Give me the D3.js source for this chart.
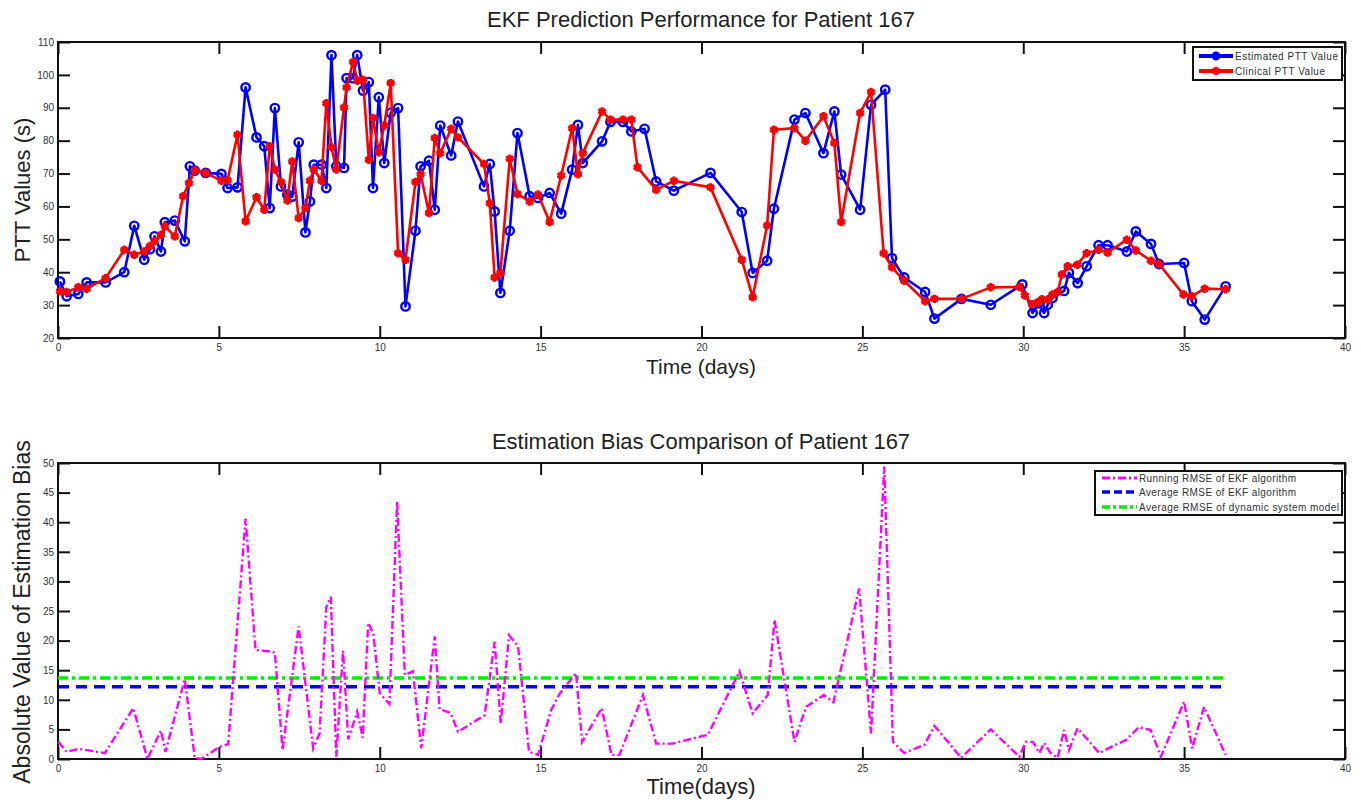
<!DOCTYPE html>
<html>
<head>
<meta charset="utf-8">
<script src="https://cdn.jsdelivr.net/npm/d3@7"></script>
<style>
  body { margin: 0; background: #fff; }
  svg { display: block; font-family: "Liberation Sans", Arial, sans-serif; }
</style>
</head>
<body>
<div id="svg-container"></div>
<script>
// Data
const estDays = [0.06,0.27,0.63,0.89,1.48,2.06,2.37,2.68,2.86,3.00,3.20,3.32,3.63,3.94,4.10,4.25,4.59,5.08,5.27,5.58,5.83,6.17,6.41,6.58,6.74,6.93,7.13,7.28,7.48,7.69,7.83,7.95,8.19,8.34,8.50,8.65,8.89,8.97,9.17,9.30,9.48,9.66,9.79,9.97,10.14,10.34,10.57,10.80,11.11,11.27,11.53,11.71,11.88,12.22,12.43,13.24,13.42,13.57,13.75,14.04,14.28,14.66,14.92,15.28,15.64,15.98,16.16,16.31,16.91,17.17,17.56,17.82,18.23,18.59,19.14,20.28,21.25,21.59,22.04,22.25,22.89,23.23,23.79,24.13,24.34,24.93,25.27,25.71,25.92,26.30,26.95,27.24,28.08,28.99,29.97,30.29,30.47,30.65,30.76,30.91,31.27,31.42,31.69,31.97,32.34,32.62,33.22,33.50,33.97,34.22,35.00,35.24,35.64,36.29]
const estimated = [37.2,32.7,33.4,36.9,36.9,40.0,54.1,43.8,47.0,50.9,46.3,55.2,55.7,49.4,72.2,70.9,70.2,69.9,65.6,65.8,96.2,81.0,78.3,59.5,89.9,66.1,63.6,63.0,79.5,52.1,61.5,72.7,72.7,65.6,106.0,72.2,71.7,99.0,99.0,106.0,95.2,97.8,65.6,93.2,73.2,88.5,89.9,29.6,52.6,72.2,73.9,59.0,84.6,75.5,85.8,66.1,72.9,58.5,33.7,52.6,82.3,63.1,62.6,64.1,57.8,71.2,84.8,73.2,79.8,85.7,85.7,82.8,83.6,67.6,64.8,70.2,58.3,39.8,43.5,59.3,86.4,88.4,76.2,88.9,69.7,59.0,90.9,95.5,44.3,38.4,34.0,25.9,31.9,30.1,36.3,27.6,30.5,27.6,30.1,32.2,34.3,39.8,36.7,41.8,48.2,48.2,46.3,52.4,48.6,42.5,42.8,31.2,25.6,35.7]

const clinDays = [0.06,0.27,0.63,0.89,1.48,2.06,2.37,2.68,2.86,3.00,3.20,3.32,3.63,3.89,4.07,4.25,4.59,5.08,5.27,5.58,5.83,6.17,6.41,6.58,6.74,6.93,7.13,7.28,7.48,7.69,7.83,7.95,8.19,8.34,8.50,8.65,8.89,8.97,9.17,9.30,9.48,9.66,9.79,9.97,10.14,10.34,10.57,10.80,11.11,11.27,11.53,11.71,11.88,12.22,12.43,13.24,13.42,13.57,13.75,14.04,14.28,14.66,14.92,15.28,15.64,15.98,16.16,16.31,16.91,17.17,17.56,17.82,18.01,18.59,19.14,20.28,21.25,21.59,22.04,22.25,22.89,23.23,23.79,24.13,24.34,24.93,25.27,25.66,25.92,26.30,26.95,27.24,28.08,28.99,29.88,30.05,30.27,30.45,30.58,30.76,30.91,31.07,31.20,31.38,31.68,31.97,32.34,32.62,33.22,33.50,33.97,34.22,34.98,35.24,35.64,36.29]
const clinical = [34.2,34.0,35.4,35.0,38.2,46.8,45.3,46.3,48.0,49.5,51.4,54.0,50.9,63.1,67.1,70.9,70.2,67.8,68.0,81.8,55.5,62.8,59.0,78.3,71.2,67.4,61.8,73.7,56.5,59.5,67.8,71.2,67.8,91.4,78.0,71.2,90.1,96.2,103.9,98.2,98.5,74.2,86.9,76.5,84.6,97.5,45.8,43.8,67.4,69.8,58.0,80.8,76.2,83.6,81.0,72.9,61.0,38.4,39.8,74.5,63.8,61.5,63.6,55.3,69.4,83.8,69.8,76.2,88.9,86.4,86.4,86.4,71.9,65.1,67.8,65.8,43.8,32.4,54.2,83.3,83.8,80.0,87.4,79.3,55.3,88.4,94.8,45.8,41.5,37.4,31.2,31.9,31.9,35.4,35.5,32.9,30.3,30.8,31.8,31.7,33.2,34.0,39.3,41.8,42.3,45.8,46.8,46.0,49.9,46.6,43.5,42.5,33.2,32.7,35.0,34.8]

const biasDays = [0.01,0.27,0.63,0.89,1.46,2.34,2.78,3.20,3.34,3.94,4.25,4.45,5.03,5.29,5.83,6.14,6.53,6.74,6.98,7.48,7.93,8.13,8.34,8.48,8.65,8.86,9.02,9.30,9.47,9.64,9.80,10.00,10.30,10.54,10.78,11.03,11.29,11.71,11.86,12.20,12.43,13.26,13.57,13.76,14.02,14.30,14.64,14.92,15.33,15.60,16.10,16.29,16.90,17.20,17.45,18.18,18.59,19.10,20.20,21.18,21.59,22.06,22.27,22.89,23.25,23.80,24.10,24.90,25.27,25.68,25.95,26.30,26.93,27.24,28.07,28.99,29.88,30.08,30.30,30.50,30.65,30.85,31.07,31.27,31.42,31.69,32.36,32.75,33.19,33.60,33.96,34.28,35.00,35.25,35.62,36.29]
const runningRmse = [2.9,1.2,1.7,1.5,1.0,8.6,0.0,4.8,1.2,13.5,0.2,0.0,2.1,2.5,40.6,18.4,18.2,18.0,1.5,22.4,1.8,4.3,25.7,27.4,0.4,18.3,3.3,8.0,3.6,23.0,21.2,11.1,9.3,43.5,14.2,14.8,1.8,20.7,8.4,7.8,4.6,7.4,19.8,6.0,20.9,19.0,1.2,0.7,8.3,11.1,14.5,2.9,8.6,0.7,0.7,10.8,2.6,2.6,4.1,14.8,7.7,10.8,23.5,2.9,8.8,10.8,9.6,28.8,4.3,49.4,2.9,1.0,2.4,5.6,0.2,5.0,0.4,2.9,2.9,1.0,2.7,1.0,0.2,4.9,1.5,5.2,1.0,2.1,3.2,5.4,4.9,0.4,9.7,1.8,8.8,0.7]

const avgRmseEkf = 12.2
const avgRmseModel = 13.7

const xTicks = [0, 5, 10, 15, 20, 25, 30, 35, 40]
const pttTicks = [20, 30, 40, 50, 60, 70, 80, 90, 100, 110]
const biasTicks = [0, 5, 10, 15, 20, 25, 30, 35, 40, 45, 50]

// Layout
const width = 1361
const height = 804
const plotLeft = 58
const plotRight = 1345
const topPanel = { top: 42, bottom: 338 }
const bottomPanel = { top: 463, bottom: 759 }

const svg = d3
  .select('#svg-container')
  .append('svg')
  .attr('width', width)
  .attr('height', height)
  .style('background', '#fff')

const xScale = d3.scaleLinear().domain([0, 40]).range([plotLeft, plotRight])
const yPtt = d3.scaleLinear().domain([20, 110]).range([topPanel.bottom, topPanel.top])
const yBias = d3.scaleLinear().domain([0, 50]).range([bottomPanel.bottom, bottomPanel.top])

const drawFrame = (yScale, yTicks, panel) => {
  const g = svg.append('g')
  const tick = 12
  g.append('g')
    .attr('transform', `translate(0, ${panel.bottom})`)
    .call(d3.axisBottom(xScale).tickValues(xTicks).tickSizeInner(-tick).tickSizeOuter(0).tickPadding(6))
  g.append('g')
    .attr('transform', `translate(0, ${panel.top})`)
    .call(d3.axisTop(xScale).tickValues(xTicks).tickSizeInner(-tick).tickSizeOuter(0).tickFormat(''))
  g.append('g')
    .attr('transform', `translate(${plotLeft}, 0)`)
    .call(d3.axisLeft(yScale).tickValues(yTicks).tickSizeInner(-tick).tickSizeOuter(0).tickPadding(4))
  g.append('g')
    .attr('transform', `translate(${plotRight}, 0)`)
    .call(d3.axisRight(yScale).tickValues(yTicks).tickSizeInner(-tick).tickSizeOuter(0).tickFormat(''))
  g.selectAll('.tick line').attr('stroke', '#111').attr('stroke-width', 2)
  g.selectAll('.domain').remove()
  g.selectAll('.tick text')
    .attr('fill', '#333')
    .style('font-size', '10px')
    .style('font-family', '"Liberation Sans", Arial, sans-serif')
  g.append('rect')
    .attr('x', plotLeft)
    .attr('y', panel.top)
    .attr('width', plotRight - plotLeft)
    .attr('height', panel.bottom - panel.top)
    .attr('fill', 'none')
    .attr('stroke', '#111')
    .attr('stroke-width', 2)
  return g
}

const addText = (txt, x, y, size, rotate) => {
  const t = svg
    .append('text')
    .attr('text-anchor', 'middle')
    .attr('fill', '#222')
    .style('font-size', `${size}px`)
    .text(txt)
  if (rotate) t.attr('transform', `translate(${x}, ${y}) rotate(-90)`)
  else t.attr('x', x).attr('y', y)
}

// ---- Top panel ----
drawFrame(yPtt, pttTicks, topPanel)

const estData = estDays.map((d, i) => ({ day: d, value: estimated[i] }))
const clinData = clinDays.map((d, i) => ({ day: d, value: clinical[i] }))

const pttLine = d3
  .line()
  .x(d => xScale(d.day))
  .y(d => yPtt(d.value))

svg.append('path')
  .datum(estData)
  .attr('d', pttLine)
  .attr('fill', 'none')
  .attr('stroke', '#0000ff')
  .attr('stroke-width', 2.6)
  .attr('stroke-linejoin', 'round')

svg.append('g')
  .selectAll('circle')
  .data(estData)
  .join('circle')
  .attr('cx', d => xScale(d.day))
  .attr('cy', d => yPtt(d.value))
  .attr('r', 4.2)
  .attr('fill', 'none')
  .attr('stroke', '#0000ff')
  .attr('stroke-width', 2.4)

svg.append('path')
  .datum(clinData)
  .attr('d', pttLine)
  .attr('fill', 'none')
  .attr('stroke', '#ff0000')
  .attr('stroke-width', 2.6)
  .attr('stroke-linejoin', 'round')

const star = d3.symbol().type(d3.symbolAsterisk).size(50)
svg.append('g')
  .selectAll('path')
  .data(clinData)
  .join('path')
  .attr('transform', d => `translate(${xScale(d.day)}, ${yPtt(d.value)})`)
  .attr('d', star)
  .attr('fill', 'none')
  .attr('stroke', '#ff0000')
  .attr('stroke-width', 3.2)

addText('EKF Prediction Performance for Patient 167', 701, 27, 22)
addText('Time (days)', 701, 374, 21)
addText('PTT Values (s)', 30, 190, 22, true)

// top legend
const leg1 = svg.append('g')
leg1.append('rect')
  .attr('x', 1193).attr('y', 47).attr('width', 149).attr('height', 33)
  .attr('fill', '#fff').attr('stroke', '#111').attr('stroke-width', 2)
const topLegend = [
  { label: 'Estimated PTT Value', color: '#0000ff', y: 56, marker: 'circle', len: 103 },
  { label: 'Clinical PTT Value', color: '#ff0000', y: 71, marker: 'star', len: 90 },
]
topLegend.forEach(item => {
  leg1.append('line')
    .attr('x1', 1199).attr('x2', 1233).attr('y1', item.y).attr('y2', item.y)
    .attr('stroke', item.color).attr('stroke-width', 4)
  if (item.marker === 'circle') {
    leg1.append('circle').attr('cx', 1216).attr('cy', item.y).attr('r', 3.5)
      .attr('fill', item.color).attr('stroke', item.color).attr('stroke-width', 2)
  } else {
    leg1.append('path').attr('transform', `translate(1216, ${item.y})`).attr('d', star)
      .attr('fill', 'none').attr('stroke', item.color).attr('stroke-width', 3)
  }
  leg1.append('text')
    .attr('x', 1235).attr('y', item.y + 3.5)
    .attr('fill', '#333').style('font-size', '10px')
    .attr('textLength', item.len)
    .text(item.label)
})

// ---- Bottom panel ----
drawFrame(yBias, biasTicks, bottomPanel)

const biasData = biasDays.map((d, i) => ({ day: d, value: runningRmse[i] }))
const lastDay = biasDays[biasDays.length - 1]

svg.append('line')
  .attr('x1', xScale(0)).attr('x2', xScale(lastDay))
  .attr('y1', yBias(avgRmseModel)).attr('y2', yBias(avgRmseModel))
  .attr('stroke', '#00ee00').attr('stroke-width', 3.5)
  .attr('stroke-dasharray', '10,4,3,4')

svg.append('line')
  .attr('x1', xScale(0)).attr('x2', xScale(lastDay) - 4)
  .attr('y1', yBias(avgRmseEkf)).attr('y2', yBias(avgRmseEkf))
  .attr('stroke', '#0000ff').attr('stroke-width', 3.5)
  .attr('stroke-dasharray', '11,7')

svg.append('path')
  .datum(biasData)
  .attr('d', d3.line().x(d => xScale(d.day)).y(d => yBias(d.value)))
  .attr('fill', 'none')
  .attr('stroke', '#ff00ff')
  .attr('stroke-width', 2.4)
  .attr('stroke-dasharray', '8,3,2,3')

addText('Estimation Bias Comparison of Patient 167', 701, 449, 22)
addText('Time(days)', 701, 794, 22)
addText('Absolute Value of Estimation Bias', 30, 612, 23, true)

// bottom legend
const leg2 = svg.append('g')
leg2.append('rect')
  .attr('x', 1095).attr('y', 471).attr('width', 247).attr('height', 44)
  .attr('fill', '#fff').attr('stroke', '#111').attr('stroke-width', 2)
const bottomLegend = [
  { label: 'Running RMSE of EKF algorithm', color: '#ff00ff', dash: '8,3,2,3', w: 3, y: 478, len: 157 },
  { label: 'Average RMSE of EKF algorithm', color: '#0000ff', dash: '8,4', w: 3.5, y: 492, len: 157 },
  { label: 'Average RMSE of dynamic system model', color: '#00ee00', dash: '8,3,3,3', w: 3.5, y: 507, len: 200 },
]
bottomLegend.forEach(item => {
  leg2.append('line')
    .attr('x1', 1102).attr('x2', 1137).attr('y1', item.y).attr('y2', item.y)
    .attr('stroke', item.color).attr('stroke-width', item.w)
    .attr('stroke-dasharray', item.dash)
  leg2.append('text')
    .attr('x', 1139).attr('y', item.y + 3.5)
    .attr('fill', '#333').style('font-size', '10px')
    .attr('textLength', item.len)
    .text(item.label)
})
</script>
</body>
</html>
